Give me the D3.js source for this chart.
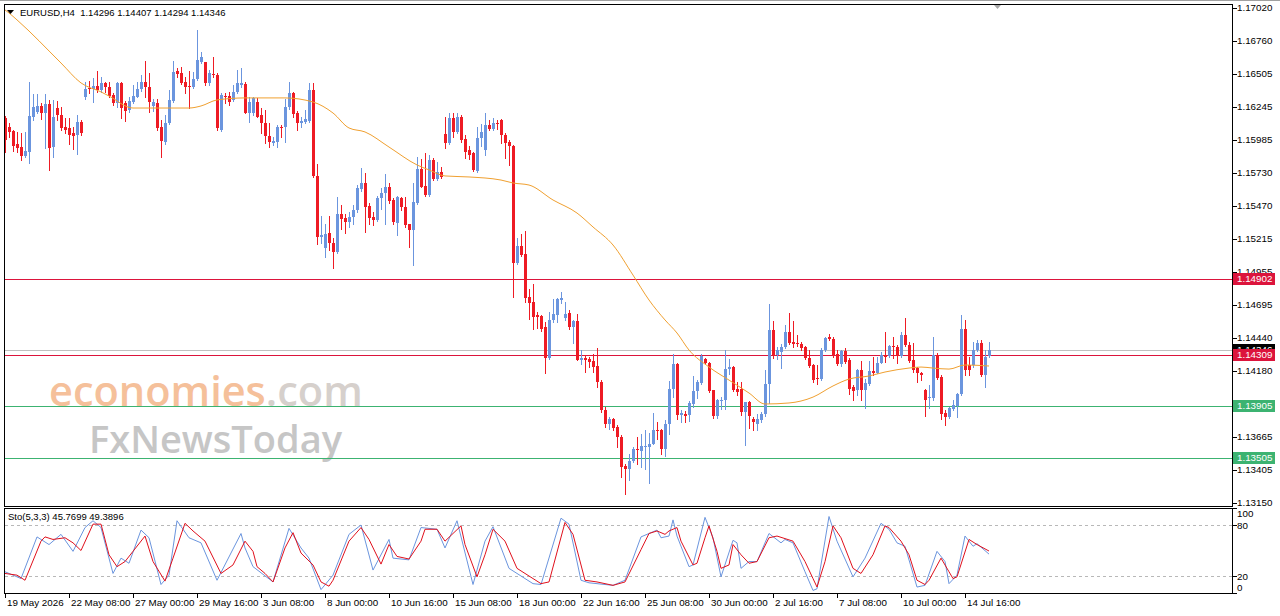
<!DOCTYPE html>
<html>
<head>
<meta charset="utf-8">
<script src="https://cdn.jsdelivr.net/npm/d3@7"></script>
<style>
  html, body { margin: 0; padding: 0; background: #fff; }
  svg { display: block; font-family: "Liberation Sans", Arial, sans-serif; }
  .pre { white-space: pre; }
</style>
</head>
<body>
<svg id="chart" width="1280" height="616"></svg>
<script>
// ---- data ----
const symbolTitle = 'EURUSD,H4  1.14296 1.14407 1.14294 1.14346'
const stochTitle = 'Sto(5,3,3) 45.7699 49.3896'

const timeLabels = ['19 May 2026', '22 May 08:00', '27 May 00:00', '29 May 16:00', '3 Jun 08:00',
  '8 Jun 00:00', '10 Jun 16:00', '15 Jun 08:00', '18 Jun 00:00', '22 Jun 16:00', '25 Jun 08:00',
  '30 Jun 00:00', '2 Jul 16:00', '7 Jul 08:00', '10 Jul 00:00', '14 Jul 16:00']
const barsPerLabel = 16

const priceTicks = ['1.17020', '1.16760', '1.16505', '1.16245', '1.15985', '1.15730', '1.15470', '1.15215',
  '1.14955', '1.14695', '1.14440', '1.14180', '1.13925', '1.13665', '1.13405', '1.13150']

const stochTicks = [100, 80, 20, 0]
const stochLevels = [80, 20]

// horizontal lines: resistance (red) / support (green), bid
const levels = [
  { price: 1.14902, color: '#dc143c' },
  { price: 1.14309, color: '#dc143c' },
  { price: 1.13905, color: '#3cb371' },
  { price: 1.13505, color: '#3cb371' },
]
const bidPrice = 1.14346

// [open, high, low, close] per H4 bar
const ohlc = [
  [1.16157,1.16175,1.15896,1.15987],[1.16092,1.16123,1.16014,1.16053],[1.16058,1.16066,1.15904,1.15940],
  [1.15956,1.16050,1.15896,1.15922],[1.15933,1.16045,1.15831,1.15865],[1.15865,1.16050,1.15857,1.15902],
  [1.15896,1.16442,1.15810,1.16175],[1.16170,1.16348,1.16144,1.16243],[1.16209,1.16348,1.16196,1.16253],
  [1.16253,1.16280,1.16149,1.16201],[1.16201,1.16348,1.15927,1.16269],[1.16269,1.16301,1.15752,1.15927],
  [1.15935,1.16301,1.15857,1.16165],[1.16238,1.16293,1.16144,1.16183],[1.16183,1.16243,1.16066,1.16079],
  [1.16089,1.16157,1.16040,1.16066],[1.16084,1.16157,1.15956,1.16027],[1.16040,1.16089,1.15917,1.16019],
  [1.16024,1.16183,1.15875,1.16128],[1.16128,1.16144,1.16027,1.16040],[1.16327,1.16442,1.16311,1.16389],
  [1.16397,1.16449,1.16353,1.16387],[1.16384,1.16470,1.16288,1.16413],[1.16410,1.16530,1.16366,1.16379],
  [1.16379,1.16478,1.16366,1.16436],[1.16436,1.16444,1.16366,1.16405],[1.16405,1.16444,1.16322,1.16332],
  [1.16340,1.16353,1.16261,1.16275],[1.16275,1.16444,1.16243,1.16431],[1.16431,1.16444,1.16157,1.16235],
  [1.16275,1.16293,1.16139,1.16217],[1.16222,1.16322,1.16209,1.16293],[1.16288,1.16415,1.16280,1.16332],
  [1.16327,1.16444,1.16322,1.16387],[1.16384,1.16496,1.16374,1.16442],[1.16442,1.16606,1.16327,1.16405],
  [1.16405,1.16515,1.16209,1.16288],[1.16253,1.16306,1.16217,1.16288],[1.16280,1.16306,1.16066,1.16079],
  [1.16087,1.16144,1.15852,1.15982],[1.15974,1.16183,1.15956,1.16118],[1.16118,1.16379,1.16113,1.16301],
  [1.16296,1.16606,1.16288,1.16522],[1.16530,1.16549,1.16483,1.16504],[1.16509,1.16562,1.16423,1.16431],
  [1.16444,1.16483,1.16353,1.16405],[1.16410,1.16530,1.16235,1.16405],[1.16405,1.16522,1.16392,1.16462],
  [1.16462,1.16849,1.16457,1.16614],[1.16601,1.16679,1.16588,1.16635],[1.16598,1.16601,1.16418,1.16431],
  [1.16431,1.16536,1.16418,1.16509],[1.16504,1.16640,1.16483,1.16496],[1.16496,1.16509,1.16066,1.16079],
  [1.16066,1.16353,1.16060,1.16340],[1.16332,1.16353,1.16275,1.16322],[1.16332,1.16366,1.16261,1.16288],
  [1.16301,1.16418,1.16296,1.16366],[1.16366,1.16536,1.16358,1.16431],[1.16418,1.16549,1.16405,1.16431],
  [1.16426,1.16444,1.16196,1.16201],[1.16201,1.16327,1.16131,1.16288],[1.16197,1.16327,1.16184,1.16314],
  [1.16283,1.16314,1.16165,1.16171],[1.16184,1.16236,1.16040,1.16118],[1.16124,1.16223,1.15962,1.16019],
  [1.16019,1.16118,1.15936,1.15975],[1.15967,1.16014,1.15949,1.15983],[1.15975,1.16105,1.15936,1.16087],
  [1.16092,1.16105,1.16014,1.16084],[1.16087,1.16306,1.15975,1.16249],[1.16244,1.16445,1.16228,1.16353],
  [1.16353,1.16366,1.16171,1.16191],[1.16202,1.16218,1.16066,1.16118],[1.16124,1.16171,1.16092,1.16139],
  [1.16132,1.16223,1.16118,1.16150],[1.16139,1.16432,1.16132,1.16379],[1.16379,1.16437,1.15701,1.15706],
  [1.15706,1.15800,1.15174,1.15231],[1.15231,1.15393,1.15179,1.15244],[1.15140,1.15335,1.15074,1.15252],
  [1.15257,1.15393,1.15127,1.15179],[1.15184,1.15218,1.14991,1.15114],[1.15114,1.15544,1.15101,1.15409],
  [1.15409,1.15479,1.15296,1.15367],[1.15375,1.15409,1.15257,1.15349],[1.15346,1.15427,1.15309,1.15388],
  [1.15388,1.15479,1.15335,1.15440],[1.15440,1.15636,1.15427,1.15609],[1.15602,1.15766,1.15591,1.15654],
  [1.15654,1.15727,1.15270,1.15466],[1.15471,1.15492,1.15335,1.15375],[1.15388,1.15427,1.15322,1.15362],
  [1.15362,1.15549,1.15357,1.15531],[1.15531,1.15609,1.15445,1.15576],[1.15570,1.15722,1.15335,1.15617],
  [1.15623,1.15649,1.15492,1.15513],[1.15518,1.15531,1.15330,1.15349],[1.15341,1.15549,1.15244,1.15539],
  [1.15531,1.15544,1.15440,1.15461],[1.15466,1.15539,1.15309,1.15322],[1.15330,1.15335,1.15153,1.15283],
  [1.15283,1.15649,1.15009,1.15505],[1.15497,1.15852,1.15487,1.15758],[1.15758,1.15836,1.15617,1.15623],
  [1.15628,1.15884,1.15549,1.15557],[1.15557,1.15870,1.15549,1.15831],[1.15831,1.15844,1.15675,1.15680],
  [1.15680,1.15818,1.15675,1.15740],[1.15740,1.15774,1.15688,1.15701],[1.16035,1.16171,1.15923,1.15967],
  [1.15967,1.16202,1.15957,1.16158],[1.16158,1.16197,1.16014,1.16053],[1.16053,1.16202,1.16040,1.16171],
  [1.16171,1.16184,1.15975,1.15988],[1.15993,1.16027,1.15844,1.15897],[1.15910,1.15941,1.15836,1.15870],
  [1.15884,1.15897,1.15748,1.15753],[1.15748,1.16087,1.15740,1.16001],[1.16001,1.16113,1.15941,1.16053],
  [1.15910,1.16197,1.15870,1.16105],[1.16105,1.16145,1.16066,1.16071],[1.16071,1.16158,1.16066,1.16118],
  [1.16118,1.16145,1.16071,1.16111],[1.16145,1.16150,1.15968,1.16028],[1.16028,1.16041,1.15845,1.15962],
  [1.15975,1.15988,1.15793,1.15941],[1.15941,1.15949,1.14762,1.15028],[1.15023,1.15218,1.15018,1.15158],
  [1.15158,1.15252,1.15080,1.15088],[1.15096,1.15280,1.14723,1.14749],[1.14762,1.14827,1.14592,1.14710],
  [1.14723,1.14866,1.14514,1.14605],[1.14618,1.14644,1.14522,1.14605],[1.14610,1.14618,1.14495,1.14514],
  [1.14527,1.14566,1.14167,1.14287],[1.14287,1.14644,1.14279,1.14584],[1.14579,1.14741,1.14566,1.14626],
  [1.14618,1.14756,1.14566,1.14741],[1.14736,1.14801,1.14710,1.14749],[1.14600,1.14723,1.14579,1.14631],
  [1.14636,1.14657,1.14514,1.14527],[1.14527,1.14584,1.14402,1.14574],[1.14574,1.14631,1.14266,1.14271],
  [1.14271,1.14344,1.14240,1.14287],[1.14284,1.14305,1.14175,1.14266],[1.14279,1.14292,1.14214,1.14253],
  [1.14261,1.14318,1.14175,1.14214],[1.14219,1.14365,1.14057,1.14096],[1.14096,1.14109,1.13861,1.13874],
  [1.13880,1.13900,1.13744,1.13765],[1.13770,1.13822,1.13731,1.13809],[1.13809,1.13814,1.13724,1.13739],
  [1.13744,1.13757,1.13587,1.13666],[1.13666,1.13680,1.13352,1.13431],[1.13436,1.13457,1.13222,1.13418],
  [1.13418,1.13535,1.13326,1.13478],[1.13478,1.13587,1.13470,1.13574],[1.13574,1.13666,1.13457,1.13561],
  [1.13556,1.13687,1.13431,1.13592],[1.13587,1.13718,1.13418,1.13592],[1.13587,1.13697,1.13305,1.13613],
  [1.13613,1.13853,1.13608,1.13724],[1.13724,1.13783,1.13653,1.13713],[1.13718,1.13731,1.13535,1.13574],
  [1.13574,1.13801,1.13514,1.13765],[1.13765,1.14104,1.13687,1.14044],[1.14044,1.14318,1.13979,1.14240],
  [1.14235,1.14245,1.13809,1.13835],[1.13835,1.13880,1.13783,1.13853],[1.13848,1.13869,1.13783,1.13827],
  [1.13835,1.13947,1.13791,1.13932],[1.13927,1.14141,1.13900,1.14026],[1.14026,1.14109,1.13973,1.14096],
  [1.14088,1.14318,1.14083,1.14297],[1.14279,1.14287,1.14235,1.14245],[1.14245,1.14253,1.14018,1.14026],
  [1.14031,1.14036,1.13817,1.13827],[1.13827,1.13966,1.13817,1.13953],[1.13947,1.13979,1.13887,1.13953],
  [1.13953,1.14344,1.13887,1.14201],[1.14201,1.14279,1.14162,1.14214],[1.14214,1.14219,1.14026,1.14036],
  [1.14044,1.14096,1.13992,1.14018],[1.14044,1.14096,1.13835,1.13861],[1.13861,1.13940,1.13600,1.13940],
  [1.13939,1.13947,1.13736,1.13830],[1.13810,1.13823,1.13719,1.13784],[1.13771,1.13844,1.13724,1.13810],
  [1.13802,1.13862,1.13784,1.13844],[1.13844,1.14189,1.13828,1.14079],[1.14079,1.14705,1.13928,1.14502],
  [1.14502,1.14575,1.14280,1.14306],[1.14306,1.14371,1.14272,1.14345],[1.14332,1.14397,1.14202,1.14371],
  [1.14366,1.14541,1.14358,1.14489],[1.14489,1.14632,1.14392,1.14403],[1.14411,1.14575,1.14371,1.14397],
  [1.14403,1.14463,1.14377,1.14392],[1.14397,1.14411,1.14345,1.14358],[1.14371,1.14377,1.14272,1.14280],
  [1.14280,1.14345,1.14215,1.14220],[1.14228,1.14236,1.14097,1.14115],[1.14131,1.14228,1.14079,1.14123],
  [1.14123,1.14358,1.14115,1.14350],[1.14345,1.14450,1.14340,1.14437],[1.14444,1.14470,1.14424,1.14429],
  [1.14429,1.14450,1.14293,1.14306],[1.14311,1.14345,1.14228,1.14236],[1.14236,1.14350,1.14220,1.14340],
  [1.14340,1.14358,1.14246,1.14254],[1.14267,1.14280,1.14006,1.14045],[1.14053,1.14071,1.13954,1.14027],
  [1.14032,1.14194,1.13993,1.14189],[1.14189,1.14262,1.13954,1.14032],[1.14032,1.14123,1.13896,1.14089],
  [1.14084,1.14262,1.14071,1.14183],[1.14183,1.14293,1.14149,1.14168],[1.14168,1.14293,1.14163,1.14246],
  [1.14246,1.14332,1.14241,1.14306],[1.14306,1.14489,1.14254,1.14293],[1.14298,1.14384,1.14293,1.14377],
  [1.14377,1.14450,1.14280,1.14366],[1.14366,1.14384,1.14246,1.14298],[1.14298,1.14489,1.14293,1.14463],
  [1.14463,1.14593,1.14377,1.14384],[1.14384,1.14411,1.14254,1.14262],[1.14267,1.14403,1.14176,1.14189],
  [1.14202,1.14215,1.14097,1.14168],[1.14168,1.14176,1.14110,1.14149],[1.14037,1.14045,1.13828,1.13959],
  [1.13967,1.14071,1.13896,1.13975],[1.13967,1.14450,1.13959,1.14306],[1.14306,1.14319,1.14123,1.14131],
  [1.14136,1.14149,1.13810,1.13849],[1.13855,1.13876,1.13758,1.13823],[1.13823,1.13902,1.13818,1.13889],
  [1.13881,1.13954,1.13876,1.13915],[1.13907,1.14011,1.13823,1.14001],[1.14001,1.14619,1.13993,1.14507],
  [1.14507,1.14580,1.14149,1.14189],[1.14228,1.14293,1.14149,1.14189],[1.14228,1.14411,1.14210,1.14345],
  [1.14345,1.14424,1.14340,1.14403],[1.14403,1.14424,1.14142,1.14149],[1.14149,1.14345,1.14053,1.14293],
  [1.14296,1.14407,1.14294,1.14346],
]

// moving average, [bar, price]
const maPoints = [
  [0,1.17005],[1,1.16981],[3,1.16927],[14,1.16590],[19,1.16434],[24,1.16364],[26,1.16332],[32,1.16238],
  [46,1.16238],[49,1.16254],[53,1.16301],[60,1.16317],[70,1.16317],[77,1.16285],[82,1.16199],[86,1.16082],
  [90,1.16051],[96,1.15933],[103,1.15793],[106,1.15754],[110,1.15707],[116,1.15699],[124,1.15675],
  [127,1.15652],[131,1.15636],[137,1.15519],[143,1.15417],[147,1.15308],[152,1.15167],[157,1.14932],
  [161,1.14737],[165,1.14581],[168,1.14479],[171,1.14346],[176,1.14213],[181,1.14111],[186,1.14010],
  [190,1.13924],[196,1.13932],[202,1.13978],[207,1.14065],[211,1.14119],[216,1.14143],[220,1.14174],
  [226,1.14205],[229,1.14213],[232,1.14205],[236,1.14197],[240,1.14229],[246,1.14221],
]

// stochastic %K (blue) and %D (red), [bar, value]
const stochK = [
  [0,25],[4,17],[8,66],[11,57],[14,69],[17,49],[20,77],[22,85],[24,77],[27,23],[29,41],[31,35],[34,74],
  [36,65],[39,10],[41,21],[43,85],[46,65],[49,59],[53,15],[59,70],[60,53],[62,31],[67,13],[71,76],[74,53],
  [76,41],[79,4],[82,21],[86,69],[89,80],[92,27],[96,63],[97,41],[101,39],[104,77],[108,75],[110,53],
  [113,85],[117,10],[120,61],[122,78],[126,29],[132,11],[134,10],[139,88],[141,81],[144,15],[146,12],
  [152,9],[155,15],[159,66],[163,74],[164,65],[166,67],[167,86],[168,67],[171,31],[172,33],[175,89],
  [177,65],[179,19],[182,62],[183,59],[184,29],[186,37],[188,37],[191,70],[194,59],[195,63],[197,59],
  [200,25],[202,3],[203,5],[206,90],[208,61],[212,19],[215,41],[219,82],[221,75],[223,59],[225,55],
  [228,7],[230,9],[233,49],[235,37],[236,11],[238,21],[240,67],[242,55],[243,58],[246,45.77],
]
const stochD = [
  [0,23],[3,21],[5,15],[9,61],[10,66],[12,63],[15,65],[17,59],[19,50],[22,81],[24,81],[26,45],[28,31],
  [30,37],[32,49],[35,67],[37,37],[40,14],[42,41],[45,82],[47,73],[50,61],[54,23],[57,33],[60,61],[62,49],
  [63,31],[65,23],[67,13],[70,53],[72,71],[74,47],[77,33],[79,13],[81,8],[82,15],[86,61],[89,77],[91,63],
  [94,34],[96,57],[98,43],[101,40],[104,61],[105,75],[108,75],[110,61],[114,79],[115,57],[118,19],
  [120,45],[122,75],[125,61],[128,29],[130,23],[134,11],[136,13],[140,83],[142,69],[145,15],[148,13],
  [152,9],[155,13],[159,51],[161,70],[163,73],[165,69],[166,73],[168,77],[169,61],[172,33],[173,35],
  [175,65],[176,79],[178,49],[179,29],[181,33],[182,57],[184,45],[186,35],[188,37],[191,65],[193,67],
  [197,61],[200,37],[202,17],[203,7],[205,37],[207,79],[209,65],[212,29],[214,23],[217,45],[220,79],
  [221,77],[224,61],[226,45],[228,15],[230,10],[231,15],[234,41],[236,25],[237,17],[238,19],[241,63],
  [243,57],[246,49.39],
]

// ---- drawing ----
const svg = d3.select('#chart')
const W = 1280
const frameL = 4, frameR = 1232
const main = { top: 4, bottom: 506 }
const sub = { top: 508, bottom: 593 }
const bull = '#6b95de', bear = '#ee1b24'

const x = d3.scaleLinear().domain([0, ohlc.length - 1]).range([5, 5 + 4 * (ohlc.length - 1)])
const y = d3.scaleLinear().domain([1.13150, 1.17020]).range([503, 8])
const ys = d3.scaleLinear().domain([0, 100]).range([sub.bottom, sub.top])
const px = v => Math.round(v) + 0.5

svg.append('rect').attr('width', W).attr('height', 616).attr('fill', '#fff')

// window edge
svg.append('line').attr('x1', 0).attr('x2', W).attr('y1', 0.5).attr('y2', 0.5).attr('stroke', '#a0a0a0')

svg.append('defs').append('clipPath').attr('id', 'clipMain')
  .append('rect').attr('x', frameL + 1).attr('y', main.top + 1)
  .attr('width', frameR - frameL - 1).attr('height', main.bottom - main.top - 1)

// watermark
const wm = svg.append('g').attr('font-family', '"Open Sans", "Liberation Sans", sans-serif').attr('font-weight', 600)
wm.append('text').attr('x', 49).attr('y', 406).attr('font-size', 41.5).attr('fill', '#f5c09a')
  .text('economies').append('tspan').attr('fill', '#d6d0cc').text('.com')
wm.append('text').attr('x', 89).attr('y', 453).attr('font-size', 38).attr('fill', '#c6c6c6')
  .text('FxNewsToday')

// levels and bid line, drawn as 1px filled strips
const lineG = svg.append('g').attr('shape-rendering', 'crispEdges')
lineG.append('rect').attr('x', frameL + 1).attr('width', frameR - frameL - 1)
  .attr('y', Math.round(y(bidPrice))).attr('height', 1).attr('fill', '#c0c0c0')
lineG.selectAll('.lvl').data(levels).join('rect').attr('class', 'lvl')
  .attr('x', frameL + 1).attr('width', frameR - frameL - 1)
  .attr('y', d => Math.round(y(d.price))).attr('height', 1)
  .attr('fill', d => d.color)

const plot = svg.append('g').attr('clip-path', 'url(#clipMain)').attr('shape-rendering', 'crispEdges')

// candles
const bars = plot.append('g')
  .selectAll('g').data(ohlc).join('g')
  .attr('fill', d => d[3] >= d[0] ? bull : bear)
  .attr('stroke', d => d[3] >= d[0] ? bull : bear)
bars.append('line')
  .attr('x1', (d, i) => px(x(i))).attr('x2', (d, i) => px(x(i)))
  .attr('y1', d => Math.round(y(d[1]))).attr('y2', d => Math.round(y(d[2])) + 1)
bars.append('rect').attr('stroke', 'none')
  .attr('x', (d, i) => Math.round(x(i)) - 1).attr('width', 3)
  .attr('y', d => Math.round(y(Math.max(d[0], d[3]))))
  .attr('height', d => Math.max(1, Math.round(y(Math.min(d[0], d[3]))) - Math.round(y(Math.max(d[0], d[3])))))

// moving average
svg.append('path').datum(maPoints).attr('clip-path', 'url(#clipMain)')
  .attr('fill', 'none').attr('stroke', '#f0a030').attr('stroke-width', 1)
  .attr('d', d3.line().x(d => x(d[0])).y(d => y(d[1])).curve(d3.curveMonotoneX))

// frames
svg.append('rect').attr('x', frameL + 0.5).attr('y', main.top + 0.5)
  .attr('width', frameR - frameL).attr('height', main.bottom - main.top)
  .attr('fill', 'none').attr('stroke', '#000')
svg.append('rect').attr('x', frameL + 0.5).attr('y', sub.top + 0.5)
  .attr('width', frameR - frameL).attr('height', sub.bottom - sub.top)
  .attr('fill', 'none').attr('stroke', '#000')

// chart shift marker
svg.append('path').attr('d', 'M994,5 L1001,5 L997.5,9 Z').attr('fill', '#a8a8a8')

// header
svg.append('path').attr('d', 'M7,10 L14,10 L10.5,14 Z').attr('fill', '#000')
svg.append('text').attr('class', 'pre').attr('x', 20).attr('y', 13).attr('dy', '0.35em')
  .attr('font-size', 9.5).text(symbolTitle)

// price axis
const axisG = svg.append('g').attr('font-size', 9.8)
axisG.selectAll('line').data(priceTicks).join('line')
  .attr('x1', frameR + 1).attr('x2', frameR + 5)
  .attr('y1', d => px(y(+d))).attr('y2', d => px(y(+d)))
  .attr('stroke', '#000')
axisG.selectAll('text').data(priceTicks).join('text')
  .attr('x', frameR + 5).attr('y', d => Math.round(y(+d))).attr('dy', '0.35em')
  .text(d => d)

// price labels for the lines
const tagData = [{ price: bidPrice, color: '#000' }].concat(levels)
const tags = svg.append('g').attr('font-size', 9.8)
  .selectAll('g').data(tagData).join('g')
  .attr('transform', d => `translate(${frameR + 1},${Math.round(y(d.price))})`)
tags.append('rect').attr('x', 0).attr('y', -6).attr('width', 42).attr('height', 12).attr('fill', d => d.color)
tags.append('text').attr('x', 4).attr('dy', '0.35em').attr('fill', '#fff').text(d => d.price.toFixed(5))

// stochastic panel
const st = svg.append('g')
st.selectAll('.lv').data(stochLevels).join('line').attr('class', 'lv')
  .attr('x1', frameL + 1).attr('x2', frameR)
  .attr('y1', d => px(ys(d))).attr('y2', d => px(ys(d)))
  .attr('stroke', '#b8b8b8').attr('stroke-dasharray', '3,3')
const stLine = d3.line().x(d => x(d[0])).y(d => ys(d[1]))
st.append('path').datum(stochK).attr('fill', 'none').attr('stroke', bull).attr('d', stLine)
st.append('path').datum(stochD).attr('fill', 'none').attr('stroke', '#e0101c').attr('d', stLine)

svg.append('text').attr('x', 8).attr('y', 517).attr('dy', '0.35em').attr('font-size', 9.5).text(stochTitle)

const stAxis = svg.append('g').attr('font-size', 9.8)
const stLabelY = { 100: 514, 80: 526, 20: 577, 0: 588 }
stAxis.selectAll('line').data(stochTicks).join('line')
  .attr('x1', frameR + 1).attr('x2', frameR + 5)
  .attr('y1', d => px(ys(d))).attr('y2', d => px(ys(d)))
  .attr('stroke', '#000')
stAxis.selectAll('text').data(stochTicks).join('text')
  .attr('x', frameR + 5).attr('y', d => stLabelY[d]).attr('dy', '0.35em').text(d => d)

// time axis
const tAxis = svg.append('g').attr('font-size', 9.8)
tAxis.selectAll('line').data(timeLabels).join('line')
  .attr('x1', (d, i) => px(x(i * barsPerLabel))).attr('x2', (d, i) => px(x(i * barsPerLabel)))
  .attr('y1', sub.bottom + 1).attr('y2', sub.bottom + 5).attr('stroke', '#000')
tAxis.selectAll('text').data(timeLabels).join('text')
  .attr('x', (d, i) => Math.round(x(i * barsPerLabel)) + 2).attr('y', 603).attr('dy', '0.35em')
  .text(d => d)
</script>
</body>
</html>
